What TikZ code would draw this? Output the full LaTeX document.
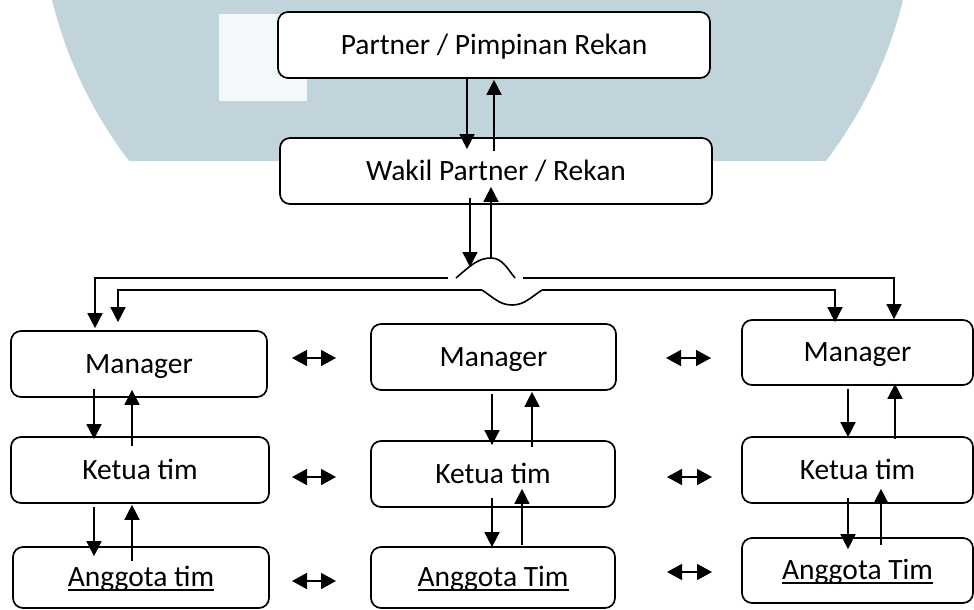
\documentclass[tikz,border=0pt]{standalone}
\usepackage{fontspec}
\setmainfont{Carlito}
\usetikzlibrary{arrows.meta}
\definecolor{wm}{RGB}{194,212,219}
\definecolor{wmsq}{RGB}{243,249,251}
\newcommand\myul[1]{\setbox0\hbox{#1}\rlap{\copy0}\rule[-4pt]{\wd0}{1.8pt}}
\begin{document}
\begin{tikzpicture}[x=1pt,y=-1pt,
  box/.style={draw, line width=1.7pt, rounded corners=10pt, fill=white,
    inner sep=0pt, text height=18.6pt, text depth=0pt,
    font=\fontsize{29.5}{35}\selectfont},
  arr/.style={line width=1.6pt, -{Triangle[width=15pt,length=15pt]}},
  line/.style={line width=1.6pt},
  darr/.style={line width=1.6pt, {Triangle[width=16pt,length=15pt]}-{Triangle[width=16pt,length=15pt]}}]
\useasboundingbox (0,0) rectangle (974,610);
% watermark
\begin{scope}
  \clip (0,0) rectangle (974,160);
  \fill[wm] (477.5,-104.5) circle[radius=438pt];
\end{scope}
\fill[wmsq] (219,14) rectangle (307,101);
% boxes
\node[box, minimum width=432pt, minimum height=66pt] (P) at (494,45) {Partner / Pimpinan Rekan};
\node[box, minimum width=432pt, minimum height=66pt] (W) at (496,171) {Wakil Partner / Rekan};
\node[box, minimum width=256pt, minimum height=66pt] (M1) at (139,364) {Manager};
\node[box, minimum width=245pt, minimum height=66pt] (M2) at (493.5,357) {Manager};
\node[box, minimum width=231pt, minimum height=65pt] (M3) at (857.5,352.5) {Manager};
\node[box, minimum width=258pt, minimum height=66pt] (K1) at (140,470) {Ketua tim};
\node[box, minimum width=244pt, minimum height=66pt] (K2) at (493,474) {Ketua tim};
\node[box, minimum width=231pt, minimum height=66pt] (K3) at (857.5,470) {Ketua tim};
\node[box, minimum width=256pt, minimum height=61pt] (A1) at (141,577.5) {\myul{Anggota tim}};
\node[box, minimum width=244pt, minimum height=61pt] (A2) at (493,577.5) {\myul{Anggota Tim}};
\node[box, minimum width=231pt, minimum height=65pt] (A3) at (857.5,570.5) {\myul{Anggota Tim}};
% junction coordinates
\coordinate (aL) at (448,278);
\coordinate (aR) at (523,278);
\coordinate (bumpS) at (456,278);
\coordinate (bumpP) at (491,258);
\coordinate (bumpE) at (515,278);
\coordinate (bumpT) at (470,267);
\coordinate (bL) at (482,290);
\coordinate (bR) at (542,290);
\coordinate (dipB) at (512,305);
% Partner <-> Wakil
\draw[arr] ([xshift=-27pt]P.south) -- ([xshift=-29pt,yshift=-12pt]W.north);
\draw[arr] ([xshift=-2pt,yshift=-14pt]W.north) -- ([yshift=-1pt]P.south);
% Wakil <-> distribution lines
\draw[arr] ([xshift=-26pt,yshift=7pt]W.south) -- (bumpT);
\draw[arr] (bumpP) -- ([xshift=-5pt,yshift=18pt]W.south);
% line A with bump
\draw[line] (bumpS) .. controls (470,266) and (478,258) .. (bumpP)
  .. controls (502,258) and (507,268) .. (bumpE);
\draw[arr] (aL) -| ([xshift=-44pt,yshift=2pt]M1.north);
\draw[arr] (aR) -| ([xshift=36.5pt]M3.north);
% line B with dip
\draw[line] (bL) .. controls (494,298) and (500,305) .. (dipB)
  .. controls (524,305) and (530,298) .. (bR);
\draw[arr] (bL) -| ([xshift=-21pt,yshift=8pt]M1.north);
\draw[arr] (bR) -| ([xshift=-22.5pt,yshift=-3pt]M3.north);
% column 1
\draw[arr] ([xshift=-45pt,yshift=9pt]M1.south) -- ([xshift=-46pt,yshift=-3pt]K1.north);
\draw[arr] ([xshift=-8pt,yshift=-10pt]K1.north) -- ([xshift=-7pt,yshift=8pt]M1.south);
\draw[arr] ([xshift=-46pt,yshift=-3pt]K1.south) -- ([xshift=-47pt,yshift=-10pt]A1.north);
\draw[arr] ([xshift=-9pt,yshift=-15pt]A1.north) -- ([xshift=-8pt,yshift=-1pt]K1.south);
% column 2
\draw[arr] ([xshift=-1.5pt,yshift=-3pt]M2.south) -- ([xshift=-1pt,yshift=-5pt]K2.north);
\draw[arr] ([xshift=39pt,yshift=-7pt]K2.north) -- ([xshift=38.5pt,yshift=-1pt]M2.south);
\draw[arr] ([xshift=-1pt,yshift=10pt]K2.south) -- ([xshift=-1pt,yshift=-1pt]A2.north);
\draw[arr] ([xshift=29pt,yshift=1pt]A2.north) -- ([xshift=29pt,yshift=19pt]K2.south);
% column 3
\draw[arr] ([xshift=-9.5pt,yshift=-3pt]M3.south) -- ([xshift=-9.5pt,yshift=-1pt]K3.north);
\draw[arr] ([xshift=37.5pt,yshift=-3pt]K3.north) -- ([xshift=37.5pt,yshift=2pt]M3.south);
\draw[arr] ([xshift=-9.5pt,yshift=6pt]K3.south) -- ([xshift=-9.5pt,yshift=-12pt]A3.north);
\draw[arr] ([xshift=23.5pt,yshift=-8pt]A3.north) -- ([xshift=23.5pt,yshift=15pt]K3.south);
% horizontal double arrows
\coordinate (h1a) at (292,358); \coordinate (h1b) at (336,358);
\coordinate (h2a) at (666,358); \coordinate (h2b) at (711,358);
\coordinate (h3a) at (292,477); \coordinate (h3b) at (336,477);
\coordinate (h4a) at (667,477); \coordinate (h4b) at (712,477);
\coordinate (h5a) at (292,581); \coordinate (h5b) at (336,581);
\coordinate (h6a) at (667,572); \coordinate (h6b) at (712,572);
\draw[darr] (h1a) -- (h1b);
\draw[darr] (h2a) -- (h2b);
\draw[darr] (h3a) -- (h3b);
\draw[darr] (h4a) -- (h4b);
\draw[darr] (h5a) -- (h5b);
\draw[darr] (h6a) -- (h6b);
\end{tikzpicture}
\end{document}
